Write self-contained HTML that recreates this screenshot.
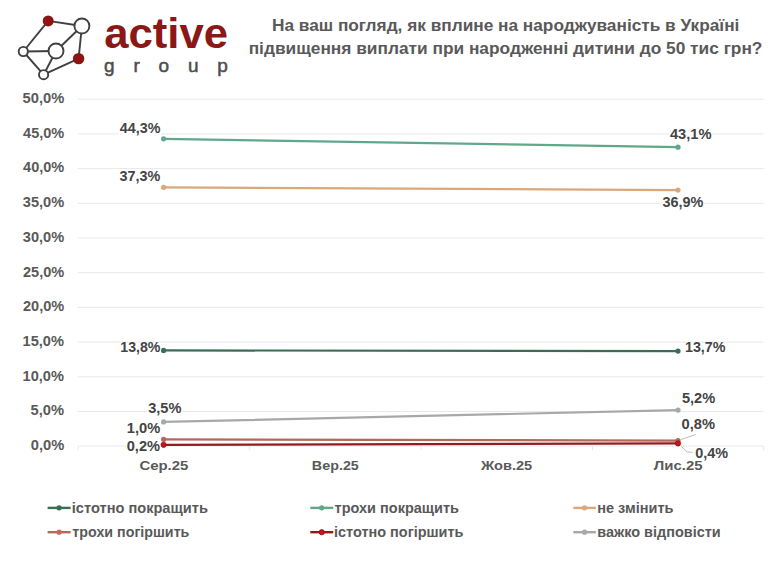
<!DOCTYPE html>
<html lang="uk">
<head>
<meta charset="utf-8">
<title>Active Group</title>
<style>
html,body{margin:0;padding:0;background:#fff;}
body{width:780px;height:585px;overflow:hidden;position:relative;font-family:"Liberation Sans",Arial,sans-serif;}
svg{position:absolute;left:0;top:0;display:block;}
.t{font-family:"Liberation Sans",Arial,sans-serif;font-weight:bold;}
</style>
</head>
<body>
<svg width="780" height="585" viewBox="0 0 780 585">
  <rect x="0" y="0" width="780" height="585" fill="#ffffff"/>

  <!-- logo graph -->
  <g stroke="#404040" stroke-width="1.9" fill="none">
    <line x1="48.2" y1="20.9" x2="81.9" y2="26"/>
    <line x1="48.2" y1="20.9" x2="23.3" y2="51.5"/>
    <line x1="23.3" y1="51.5" x2="56" y2="51"/>
    <line x1="23.3" y1="51.5" x2="43.6" y2="74.7"/>
    <line x1="56" y1="51" x2="81.9" y2="26"/>
    <line x1="56" y1="51" x2="43.6" y2="74.7"/>
    <line x1="81.9" y1="26" x2="78.6" y2="58.6"/>
    <line x1="78.6" y1="58.6" x2="43.6" y2="74.7"/>
  </g>
  <g stroke="#404040" stroke-width="1.9">
    <circle cx="48.2" cy="20.9" r="5.5" fill="#8e1414" stroke="none"/>
    <circle cx="78.6" cy="58.6" r="5.7" fill="#8e1414" stroke="none"/>
    <circle cx="81.9" cy="26" r="7.5" fill="#fff"/>
    <circle cx="56" cy="51" r="7.5" fill="#fff"/>
    <circle cx="23.3" cy="51.5" r="4.6" fill="#fff"/>
    <circle cx="43.6" cy="74.7" r="4.6" fill="#fff"/>
  </g>

  <!-- gridlines -->
  <g stroke="#e8e8e8" stroke-width="1">
    <line x1="78" y1="99.2" x2="763.5" y2="99.2"/>
    <line x1="78" y1="133.9" x2="763.5" y2="133.9"/>
    <line x1="78" y1="168.6" x2="763.5" y2="168.6"/>
    <line x1="78" y1="203.3" x2="763.5" y2="203.3"/>
    <line x1="78" y1="238" x2="763.5" y2="238"/>
    <line x1="78" y1="272.7" x2="763.5" y2="272.7"/>
    <line x1="78" y1="307.4" x2="763.5" y2="307.4"/>
    <line x1="78" y1="342.1" x2="763.5" y2="342.1"/>
    <line x1="78" y1="376.8" x2="763.5" y2="376.8"/>
    <line x1="78" y1="411.5" x2="763.5" y2="411.5"/>
    <line x1="78" y1="446" x2="763.5" y2="446"/>
    <line x1="78" y1="446" x2="78" y2="450"/>
    <line x1="249.5" y1="446" x2="249.5" y2="450"/>
    <line x1="421" y1="446" x2="421" y2="450"/>
    <line x1="592.5" y1="446" x2="592.5" y2="450"/>
    <line x1="763.5" y1="446" x2="763.5" y2="450"/>
  </g>

  <rect x="118.4" y="123.1" width="42.6" height="12.7" fill="#fff"/>
  <rect x="118.4" y="171.2" width="42.6" height="12.7" fill="#fff"/>
  <rect x="147.2" y="403.0" width="34.8" height="12.7" fill="#fff"/>
  <rect x="125.8" y="440.8" width="35.0" height="12.7" fill="#fff"/>
  <rect x="668.5" y="128.3" width="43.7" height="12.7" fill="#fff"/>
  <rect x="661.4" y="196.8" width="42.7" height="12.7" fill="#fff"/>
  <!-- series lines -->
  <g stroke-width="2.2" fill="none" stroke-linecap="round">
    <line x1="163.6" y1="138.8" x2="678" y2="147.2" stroke="#60a889"/>
    <line x1="163.6" y1="187.3" x2="678" y2="190.1" stroke="#dba87c"/>
    <line x1="163.6" y1="350.4" x2="678" y2="351.1" stroke="#3a6d54"/>
    <line x1="163.6" y1="421.9" x2="678" y2="410.1" stroke="#a8a8a8"/>
    <line x1="163.6" y1="439.3" x2="678" y2="440.6" stroke="#b0695c"/>
    <line x1="163.6" y1="444.8" x2="678" y2="443.4" stroke="#931c20"/>
  </g>
  <g>
    <circle cx="163.6" cy="138.8" r="2.6" fill="#60a889"/>
    <circle cx="678" cy="147.2" r="2.6" fill="#60a889"/>
    <circle cx="163.6" cy="187.3" r="2.6" fill="#dba87c"/>
    <circle cx="678" cy="190.1" r="2.6" fill="#dba87c"/>
    <circle cx="163.6" cy="350.4" r="2.6" fill="#3a6d54"/>
    <circle cx="678" cy="351.1" r="2.6" fill="#3a6d54"/>
    <circle cx="163.6" cy="421.9" r="2.6" fill="#a8a8a8"/>
    <circle cx="678" cy="410.1" r="2.6" fill="#a8a8a8"/>
    <circle cx="163.6" cy="439.3" r="2.6" fill="#b0695c"/>
    <circle cx="678" cy="440.6" r="2.6" fill="#b0695c"/>
    <circle cx="163.6" cy="444.8" r="2.6" fill="#c8141c" stroke="#8c1014" stroke-width="0.8"/>
    <circle cx="678" cy="443.4" r="2.6" fill="#c8141c" stroke="#8c1014" stroke-width="0.8"/>
  </g>

  <!-- leader lines -->
  <g stroke="#b4b4b4" stroke-width="0.9" fill="none">
    <line x1="695.5" y1="434.6" x2="680.8" y2="439.6"/>
    <polyline points="680.8,445.8 686.6,451.8 692.5,452.4"/>
  </g>

  <!-- legend -->
  <g stroke-width="2.4">
    <line x1="47.6" y1="507.9" x2="70.6" y2="507.9" stroke="#3a6d54"/>
    <line x1="310.3" y1="507.9" x2="333.2" y2="507.9" stroke="#60a889"/>
    <line x1="573.3" y1="507.9" x2="595.9" y2="507.9" stroke="#dba87c"/>
    <line x1="47.6" y1="532.2" x2="70.6" y2="532.2" stroke="#b0695c"/>
    <line x1="310.3" y1="532.2" x2="333.2" y2="532.2" stroke="#901a1e"/>
    <line x1="573.3" y1="532.2" x2="595.9" y2="532.2" stroke="#a8a8a8"/>
  </g>
  <g>
    <circle cx="59.1" cy="507.9" r="2.6" fill="#3a6d54"/>
    <circle cx="321.75" cy="507.9" r="2.6" fill="#60a889"/>
    <circle cx="584.6" cy="507.9" r="2.6" fill="#dba87c"/>
    <circle cx="59.1" cy="532.2" r="2.6" fill="#c86a60"/>
    <circle cx="321.75" cy="532.2" r="2.6" fill="#c8141c" stroke="#8c1014" stroke-width="0.8"/>
    <circle cx="584.6" cy="532.2" r="2.6" fill="#a8a8a8"/>
  </g>

  <!-- texts -->
  <text id="title1" class="t" x="271.93" y="31.40" font-size="16" fill="#595959" textLength="467.49" lengthAdjust="spacingAndGlyphs">На ваш погляд, як вплине на народжуваність в Україні</text>
  <text id="title2" class="t" x="248.67" y="53.80" font-size="16" fill="#595959" textLength="513.78" lengthAdjust="spacingAndGlyphs">підвищення виплати при народженні дитини до 50 тис грн?</text>
  <text id="active" class="t" x="104.18" y="48.00" font-size="42" fill="#8b1717" textLength="123.81" lengthAdjust="spacingAndGlyphs">active</text>
  <text id="group" class="t" x="104.07" y="72.00" font-size="19" fill="#4d4d4d" textLength="123.81" lengthAdjust="spacing" style="font-weight:normal" stroke="#4d4d4d" stroke-width="0.5">group</text>
  <text id="y50" class="t" x="22.58" y="103.10" font-size="14" fill="#595959" textLength="41.66" lengthAdjust="spacingAndGlyphs">50,0%</text>
  <text id="y45" class="t" x="23.09" y="137.78" font-size="14" fill="#595959" textLength="41.18" lengthAdjust="spacingAndGlyphs">45,0%</text>
  <text id="y40" class="t" x="23.09" y="172.46" font-size="14" fill="#595959" textLength="41.18" lengthAdjust="spacingAndGlyphs">40,0%</text>
  <text id="y35" class="t" x="22.81" y="207.14" font-size="14" fill="#595959" textLength="41.38" lengthAdjust="spacingAndGlyphs">35,0%</text>
  <text id="y30" class="t" x="22.81" y="241.82" font-size="14" fill="#595959" textLength="41.38" lengthAdjust="spacingAndGlyphs">30,0%</text>
  <text id="y25" class="t" x="22.96" y="276.50" font-size="14" fill="#595959" textLength="41.24" lengthAdjust="spacingAndGlyphs">25,0%</text>
  <text id="y20" class="t" x="22.96" y="311.18" font-size="14" fill="#595959" textLength="41.24" lengthAdjust="spacingAndGlyphs">20,0%</text>
  <text id="y15" class="t" x="22.53" y="345.86" font-size="14" fill="#595959" textLength="41.42" lengthAdjust="spacingAndGlyphs">15,0%</text>
  <text id="y10" class="t" x="22.53" y="380.54" font-size="14" fill="#595959" textLength="41.42" lengthAdjust="spacingAndGlyphs">10,0%</text>
  <text id="y5" class="t" x="30.56" y="415.22" font-size="14" fill="#595959" textLength="33.54" lengthAdjust="spacingAndGlyphs">5,0%</text>
  <text id="y0" class="t" x="30.85" y="449.90" font-size="14" fill="#595959" textLength="33.42" lengthAdjust="spacingAndGlyphs">0,0%</text>
  <text id="xs" class="t" x="139.41" y="469.80" font-size="13.5" fill="#595959" textLength="48.96" lengthAdjust="spacingAndGlyphs">Сер.25</text>
  <text id="xv" class="t" x="311.88" y="469.80" font-size="13.5" fill="#595959" textLength="46.94" lengthAdjust="spacingAndGlyphs">Вер.25</text>
  <text id="xz" class="t" x="481.01" y="469.80" font-size="13.5" fill="#595959" textLength="51.26" lengthAdjust="spacingAndGlyphs">Жов.25</text>
  <text id="xl" class="t" x="653.80" y="469.80" font-size="13.5" fill="#595959" textLength="48.79" lengthAdjust="spacingAndGlyphs">Лис.25</text>
  <text id="d443" class="t" x="119.83" y="133.30" font-size="14" fill="#444444" textLength="40.57" lengthAdjust="spacingAndGlyphs">44,3%</text>
  <text id="d373" class="t" x="119.48" y="181.40" font-size="14" fill="#444444" textLength="40.79" lengthAdjust="spacingAndGlyphs">37,3%</text>
  <text id="d138" class="t" x="120.31" y="351.50" font-size="14" fill="#444444" textLength="40.15" lengthAdjust="spacingAndGlyphs">13,8%</text>
  <text id="d35" class="t" x="148.17" y="413.20" font-size="14" fill="#444444" textLength="33.27" lengthAdjust="spacingAndGlyphs">3,5%</text>
  <text id="d10" class="t" x="126.83" y="432.80" font-size="14" fill="#444444" textLength="33.43" lengthAdjust="spacingAndGlyphs">1,0%</text>
  <text id="d02" class="t" x="126.72" y="451.00" font-size="14" fill="#444444" textLength="33.34" lengthAdjust="spacingAndGlyphs">0,2%</text>
  <text id="d431" class="t" x="669.91" y="138.50" font-size="14" fill="#444444" textLength="41.61" lengthAdjust="spacingAndGlyphs">43,1%</text>
  <text id="d369" class="t" x="662.48" y="207.00" font-size="14" fill="#444444" textLength="40.82" lengthAdjust="spacingAndGlyphs">36,9%</text>
  <text id="d137" class="t" x="685.00" y="352.20" font-size="14" fill="#444444" textLength="40.47" lengthAdjust="spacingAndGlyphs">13,7%</text>
  <text id="d52" class="t" x="681.94" y="402.50" font-size="14" fill="#444444" textLength="33.28" lengthAdjust="spacingAndGlyphs">5,2%</text>
  <text id="d08" class="t" x="681.62" y="429.20" font-size="14" fill="#444444" textLength="33.46" lengthAdjust="spacingAndGlyphs">0,8%</text>
  <text id="d04" class="t" x="695.32" y="457.50" font-size="14" fill="#444444" textLength="32.84" lengthAdjust="spacingAndGlyphs">0,4%</text>
  <text id="l1" class="t" x="71.80" y="513.00" font-size="14.2" fill="#595959" textLength="136.11" lengthAdjust="spacingAndGlyphs">істотно покращить</text>
  <text id="l2" class="t" x="334.63" y="513.00" font-size="14.2" fill="#595959" textLength="124.34" lengthAdjust="spacingAndGlyphs">трохи покращить</text>
  <text id="l3" class="t" x="597.21" y="513.00" font-size="14.2" fill="#595959" textLength="76.25" lengthAdjust="spacingAndGlyphs">не змінить</text>
  <text id="l4" class="t" x="72.36" y="536.80" font-size="14.2" fill="#595959" textLength="117.03" lengthAdjust="spacingAndGlyphs">трохи погіршить</text>
  <text id="l5" class="t" x="333.98" y="536.80" font-size="14.2" fill="#595959" textLength="129.47" lengthAdjust="spacingAndGlyphs">істотно погіршить</text>
  <text id="l6" class="t" x="597.21" y="536.80" font-size="14.2" fill="#595959" textLength="123.54" lengthAdjust="spacingAndGlyphs">важко відповісти</text>
</svg>
</body>
</html>
